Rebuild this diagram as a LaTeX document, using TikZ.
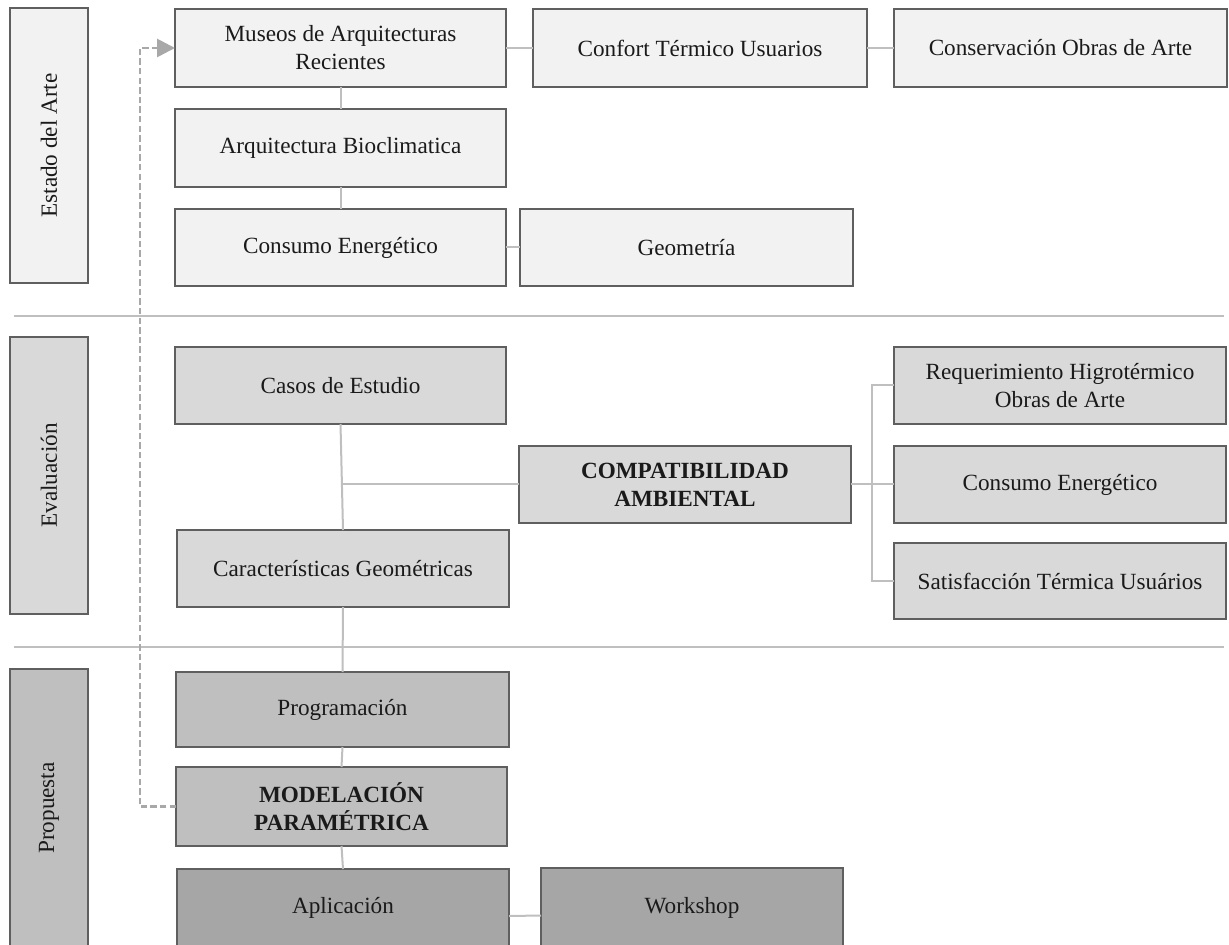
\documentclass[tikz,border=0pt]{standalone}
\usepackage{fontspec}
\setmainfont{Liberation Serif}
\usetikzlibrary{arrows.meta,calc}
\definecolor{bordc}{HTML}{5F5F5F}
\definecolor{linec}{HTML}{BFBFBF}
\definecolor{dashc}{HTML}{A8A8A8}
\definecolor{fa}{HTML}{F2F2F2}
\definecolor{fb}{HTML}{D9D9D9}
\definecolor{fc}{HTML}{BFBFBF}
\definecolor{fd}{HTML}{A6A6A6}
\definecolor{txt}{HTML}{1A1A1A}
\begin{document}
\begin{tikzpicture}[x=0.5pt,y=-0.5pt,
 box/.style={draw=bordc, line width=1pt, inner sep=0pt, outer sep=0pt, align=center, text=txt, font=\fontsize{11.6}{14}\selectfont},
 boldbox/.style={box, font=\fontsize{11.6}{14}\selectfont\bfseries},
 sz/.style 2 args={minimum width=#1*0.5pt, minimum height=#2*0.5pt},
 conn/.style={draw=linec, line width=1pt},
 sepline/.style={draw=linec, line width=1pt},
 back/.style={draw=dashc, line width=1.4pt, dash pattern=on 3.2pt off 1.6pt, -{Triangle[length=9pt,width=9pt]}}
]
\useasboundingbox (0,0) rectangle (1229,945);
\clip (0,0) rectangle (1229,945);

% separators
\draw[sepline] (14,316) -- (1224,316);
\draw[sepline] (14,647) -- (1224,647);

% phase labels
\node[box, fill=fa, rotate=90, sz={275}{78}] (estado) at (49,145.5) {Estado del Arte};
\node[box, fill=fb, rotate=90, sz={277}{78}] (evalua) at (49,475.5) {Evaluación};
\node[box, fill=fc, rotate=90, sz={278}{78}] (propuesta) at (49,808) {Propuesta};

% Estado del Arte
\node[box, fill=fa, sz={331}{78}] (museos) at (340.5,48) {Museos de Arquitecturas\\Recientes};
\node[box, fill=fa, sz={334}{78}] (confort) at (700,48) {Confort Térmico Usuarios};
\node[box, fill=fa, sz={333}{78}] (conserv) at (1060.5,48) {Conservación Obras de Arte};
\node[box, fill=fa, sz={331}{78}] (arq) at (340.5,148) {Arquitectura Bioclimatica};
\node[box, fill=fa, sz={331}{77}] (consumoA) at (340.5,247.5) {Consumo Energético};
\node[box, fill=fa, sz={333}{77}] (geom) at (686.5,247.5) {Geometría};

% Evaluacion
\node[box, fill=fb, sz={331}{77}] (casos) at (340.5,385.5) {Casos de Estudio};
\node[box, fill=fb, sz={332}{77}] (caract) at (343,568.5) {Características Geométricas};
\node[boldbox, fill=fb, sz={332}{77}] (compat) at (685,484.5) {COMPATIBILIDAD\\AMBIENTAL};
\node[box, fill=fb, sz={332}{77}] (req) at (1060,385.5) {Requerimiento Higrotérmico\\Obras de Arte};
\node[box, fill=fb, sz={332}{77}] (consumoB) at (1060,484.5) {Consumo Energético};
\node[box, fill=fb, sz={332}{76}] (satis) at (1060,581) {Satisfacción Térmica Usuários};

% Propuesta
\node[box, fill=fc, sz={333}{75}] (prog) at (342.5,709.5) {Programación};
\node[boldbox, fill=fc, sz={331}{79}] (model) at (341.5,806.5) {MODELACIÓN\\PARAMÉTRICA};
\node[box, fill=fd, sz={332}{78}] (aplic) at (343,908) {Aplicación};
\node[box, fill=fd, sz={302}{79}] (work) at (692,907.5) {Workshop};

% connectors
\draw[conn] (museos.east) -- (confort.west);
\draw[conn] (confort.east) -- (conserv.west);
\draw[conn] (museos.south) -- (arq.north);
\draw[conn] (arq.south) -- (consumoA.north);
\draw[conn] (consumoA.east) -- (geom.west);

\draw[conn] (casos.south) -- (caract.north);
\coordinate (bj) at (casos.south |- compat.west);
\draw[conn] (bj) -- (compat.west);
\coordinate (br) at (872,484.5);
\draw[conn] (compat.east) -- (consumoB.west);
\draw[conn] (req.west) -| (br) |- (satis.west);

\draw[conn] (caract.south) -- (prog.north);
\draw[conn] (prog.south) -- (model.north);
\draw[conn] (model.south) -- (aplic.north);
\draw[conn] ([yshift=-4pt]aplic.east) -- ([yshift=-4pt]work.west);

% feedback dashed arrow
\coordinate (dturn) at (140,806.5);
\draw[back] (model.west) -- (dturn) |- (museos.west);
\end{tikzpicture}
\end{document}
